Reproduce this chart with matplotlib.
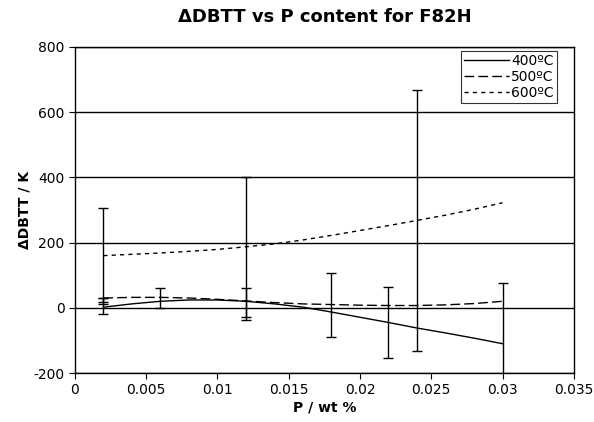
import matplotlib
matplotlib.use("Agg")
import matplotlib.pyplot as plt

plt.rcParams["axes.unicode_minus"] = False

# fitted curves
x_fit = [0.002, 0.004, 0.006, 0.008, 0.010, 0.012, 0.014, 0.016,
         0.018, 0.020, 0.022, 0.024, 0.026, 0.028, 0.030]
y400 = [2, 12, 20, 24, 24, 20, 12, 2, -13, -29, -45, -62, -77, -93, -110]
y500 = [30, 32, 32, 30, 26, 21, 16, 12, 10, 8, 7, 7, 9, 13, 20]
y600 = [160, 164, 168, 173, 179, 187, 196, 208, 222, 237, 252, 268, 284, 302, 322]

# error bars: x, low, high
err_x = [0.002, 0.002, 0.002, 0.006, 0.012, 0.012, 0.018, 0.022, 0.024, 0.030]
err_lo = [-18, 12, 19, -2, -27, -37, -88, -155, -133, -240]
err_hi = [307, 31, 31, 62, 402, 62, 108, 65, 669, 75]

fig = plt.figure(figsize=(5.94, 4.22), dpi=100)
ax = fig.add_axes([0.126, 0.116, 0.84, 0.773])

for v in range(-200, 801, 200):
    ax.axhline(v, color="black", lw=1.0, zorder=1)

mid = [(l + h) / 2 for l, h in zip(err_lo, err_hi)]
half = [(h - l) / 2 for l, h in zip(err_lo, err_hi)]
ax.errorbar(err_x, mid, yerr=[half, half], fmt="none", ecolor="black",
            elinewidth=1.0, capsize=3.5, capthick=1.0, zorder=3)

ax.plot(x_fit, y400, color="black", lw=1.0, ls="-", label="400ºC", zorder=4)
ax.plot(x_fit, y500, color="black", lw=1.0, ls=(0, (7, 3)), label="500ºC", zorder=4)
ax.plot(x_fit, y600, color="black", lw=1.0, ls=(0, (3, 3)), label="600ºC", zorder=4)

ax.set_xlim(0, 0.035)
ax.set_ylim(-200, 800)
ax.set_xticks([0, 0.005, 0.01, 0.015, 0.02, 0.025, 0.03, 0.035])
ax.set_xticklabels(["0", "0.005", "0.01", "0.015", "0.02", "0.025", "0.03", "0.035"])
ax.set_yticks(range(-200, 801, 200))
ax.tick_params(direction="out", length=4, labelsize=10, color="black")
for s in ax.spines.values():
    s.set_color("black")
    s.set_linewidth(1.0)

ax.set_xlabel("P / wt %", fontsize=10, fontweight="bold", labelpad=2)
ax.set_ylabel("ΔDBTT / K", fontsize=10, fontweight="bold", labelpad=1)
ax.set_title("ΔDBTT vs P content for F82H", fontsize=13, fontweight="bold", pad=18)

leg = ax.legend(loc="upper right", bbox_to_anchor=(0.966, 0.987), fontsize=10,
                frameon=True, fancybox=False, edgecolor="black", borderpad=0.2,
                labelspacing=0.15, handlelength=3.2, handletextpad=0.2,
                borderaxespad=0.0)
leg.get_frame().set_linewidth(0.8)

fig.savefig("out.png", dpi=100)
